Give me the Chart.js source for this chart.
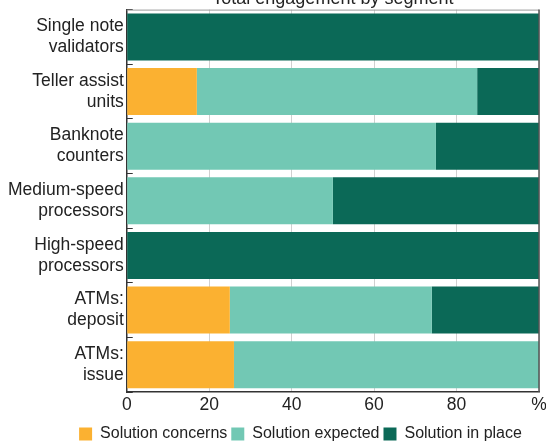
<!DOCTYPE html>
<html>
<head>
<meta charset="utf-8">
<script src="https://cdn.jsdelivr.net/npm/chart.js"></script>
<style>
  html, body { margin: 0; padding: 0; background: #fff; overflow: hidden; }
  #wrap { position: absolute; left: 0; top: -12px; width: 546px; height: 464px; }
</style>
</head>
<body>
<div id="wrap"><canvas id="myChart"></canvas></div>
<script>
  // data
  const segments = [
    ['Single note', 'validators'],
    ['Teller assist', 'units'],
    ['Banknote', 'counters'],
    ['Medium-speed', 'processors'],
    ['High-speed', 'processors'],
    ['ATMs:', 'deposit'],
    ['ATMs:', 'issue']
  ];
  const concerns = [0, 17, 0, 0, 0, 25, 26];
  const expected = [0, 68, 75, 50, 0, 49, 74];
  const inPlace = [100, 15, 25, 50, 100, 26, 0];
  const xTickLabels = ['0', '20', '40', '60', '80', '%'];

  const FONT = "'Liberation Sans', Arial, sans-serif";
  Chart.defaults.font.family = FONT;
  Chart.defaults.color = '#222';

  // draws the thin top and right frame lines
  const frame = {
    id: 'frame',
    afterDatasetsDraw(chart) {
      const a = chart.chartArea, ctx = chart.ctx;
      ctx.save();
      ctx.lineWidth = 1;
      ctx.strokeStyle = '#9a9a9a';
      ctx.beginPath();
      ctx.moveTo(a.left, a.top + 0.5);
      ctx.lineTo(a.right, a.top + 0.5);
      ctx.stroke();
      ctx.strokeStyle = '#555';
      ctx.lineWidth = 1.5;
      ctx.beginPath();
      ctx.moveTo(a.right, a.top);
      ctx.lineTo(a.right, a.bottom);
      ctx.stroke();
      ctx.restore();
    }
  };

  // legend sits a bit right of the canvas centre in the original
  const legendShift = {
    id: 'legendShift',
    afterLayout(chart) {
      chart.legend.left += 27;
      chart.legend.right += 27;
    }
  };

  const ctx = document.getElementById('myChart');

  new Chart(ctx, {
    type: 'bar',
    data: {
      labels: segments,
      datasets: [
        { label: 'Solution concerns', data: concerns, backgroundColor: '#FBB131' },
        { label: 'Solution expected', data: expected, backgroundColor: '#72C8B4' },
        { label: 'Solution in place', data: inPlace, backgroundColor: '#0B6957' }
      ]
    },
    options: {
      indexAxis: 'y',
      responsive: true,
      maintainAspectRatio: false,
      animation: false,
      barPercentage: 0.86,
      categoryPercentage: 1,
      layout: { padding: { left: 8, right: 7, top: 0, bottom: 0 } },
      scales: {
        x: {
          stacked: true,
          min: 0,
          max: 100,
          ticks: {
            stepSize: 20,
            padding: 3,
            color: '#222',
            font: { size: 17.5 },
            callback: (v) => xTickLabels[v / 20]
          },
          grid: { color: '#d0d0d0', lineWidth: 1, drawTicks: false },
          border: { display: true, color: '#333', width: 1.5 },
          afterFit(scale) {
            scale.height += 3;
            scale.paddingRight = 7;
          }
        },
        y: {
          stacked: true,
          ticks: {
            padding: 9,
            color: '#222',
            font: { size: 17.5 }
          },
          grid: {
            drawOnChartArea: false,
            drawTicks: true,
            tickLength: -6,
            color: '#333',
            lineWidth: 1
          },
          border: { display: true, color: '#333', width: 1.5 },
          afterFit(scale) {
            scale.width -= 9;
            scale.paddingTop = 0;
            scale.paddingBottom = 0;
          }
        }
      },
      plugins: {
        title: {
          display: true,
          text: 'Total engagement by segment',
          fullSize: false,
          color: '#222',
          font: { size: 18, weight: 'normal' },
          padding: { top: 0, bottom: 0 }
        },
        legend: {
          position: 'bottom',
          labels: {
            boxWidth: 13,
            boxHeight: 13,
            padding: 4,
            color: '#222',
            font: { size: 16 }
          }
        },
        tooltip: { enabled: false }
      }
    },
    plugins: [frame, legendShift]
  });
</script>
</body>
</html>
